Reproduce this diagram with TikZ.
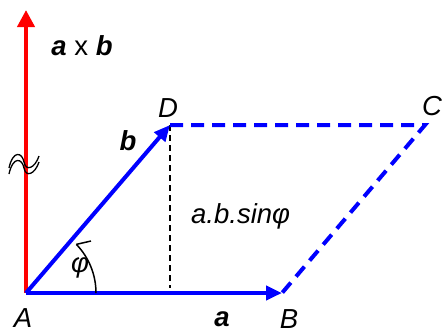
\documentclass[tikz,border=0pt]{standalone}
\usepackage{fontspec}
\setmainfont{Liberation Sans}
\usetikzlibrary{arrows.meta}
\begin{document}
\begin{tikzpicture}[x=1pt,y=-1pt,
  lbl/.style={inner sep=0pt,font=\fontsize{27.5}{30}\selectfont\itshape},
  vec/.style={blue,line width=4pt,-{Triangle[length=16pt,width=14pt]}},
  redvec/.style={red,line width=4pt,-{Triangle[length=17pt,width=17pt]}},
  par/.style={blue,line width=4pt,dash pattern=on 13pt off 8pt},
  hgt/.style={black,line width=1.5pt,dash pattern=on 6pt off 4pt}]
\useasboundingbox (0,0) rectangle (443,333);
\coordinate (A) at (26,293);
\coordinate (B) at (282,293);
\coordinate (C) at (425,125);
\coordinate (D) at (170,125);
\coordinate (Z) at (26,10);
\coordinate (F) at (170,288);
% cross product
\draw[redvec] (A) -- (Z);
% squiggle
\draw[black,line width=1.3pt] (9,168) .. controls (13,150) and (22,152) .. (24,162) .. controls (26,172) and (35,168) .. (39,156);
\draw[black,line width=1.3pt] (9,174) .. controls (13,156) and (22,158) .. (24,168) .. controls (26,178) and (35,174) .. (39,162);
% parallelogram
\draw[hgt] (D) -- (F);
\draw[par] (D) -- (C) -- (B);
\draw[vec] (A) -- (B);
\draw[vec] (A) -- (D);
% angle
\draw[black,line width=1.5pt] (96,293) arc[start angle=0,end angle=-44,radius=70] coordinate (P);
\draw[black,line width=1.5pt] (P) -- (91,241);
% labels
\node[lbl,anchor=base] (axb) at (82,55) {\textbf{a} {\upshape x} \textbf{b}};
\node[lbl,anchor=base] (Dl) at (168,117) {D};
\node[lbl,anchor=base] (Cl) at (432,115) {C};
\node[lbl,anchor=base] (bl) at (128,150) {\textbf{b}};
\node[lbl,anchor=base west] (area) at (191,223) {a.b.sinφ};
\node[lbl] (phi) at (80,268) {φ};
\node[lbl,anchor=base] (Al) at (23,327) {A};
\node[lbl,anchor=base] (al) at (222,326) {\textbf{a}};
\node[lbl,anchor=base] (Bl) at (289,328) {B};
\end{tikzpicture}
\end{document}
